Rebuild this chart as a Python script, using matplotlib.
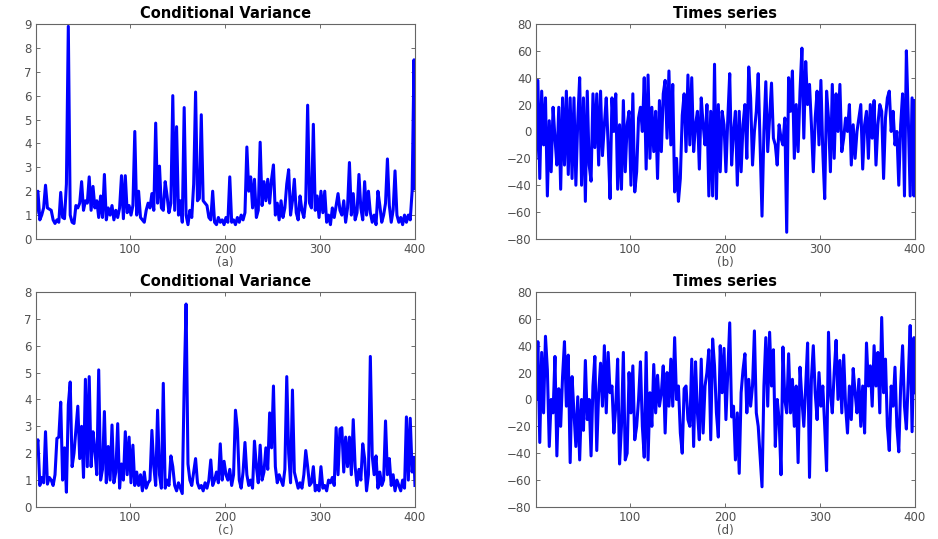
import numpy as np
import matplotlib
matplotlib.use('Agg')
import matplotlib.pyplot as plt


# sample index: every second point, plus the last one
t = np.r_[np.arange(1, 400, 2), 400]

var_a = [1.1, 2.0, 0.8, 1.0, 1.3, 2.25, 1.3, 1.25, 1.2, 0.8,
         0.65, 0.8, 0.7, 1.95, 0.9, 0.85, 2.3, 8.9, 1.0, 0.7,
         0.65, 1.4, 1.3, 1.5, 2.4, 1.2, 1.6, 1.5, 2.6, 1.2,
         2.2, 1.3, 1.6, 0.9, 1.8, 0.9, 2.7, 0.8, 1.3, 1.0,
         1.4, 0.8, 1.2, 0.9, 1.3, 2.65, 0.85, 2.65, 1.1, 1.4,
         1.0, 1.4, 4.5, 1.0, 2.0, 0.9, 0.8, 0.7, 1.2, 1.5,
         1.3, 1.9, 1.2, 4.85, 1.5, 3.05, 1.3, 1.2, 2.4, 1.8,
         1.1, 1.5, 6.0, 1.2, 4.7, 1.0, 1.6, 0.7, 5.5, 1.0,
         0.6, 1.2, 0.9, 2.3, 6.15, 1.6, 1.7, 5.2, 1.6, 1.5,
         1.4, 0.9, 0.8, 2.0, 0.7, 0.6, 0.9, 0.7, 0.8, 0.6,
         0.9, 0.7, 2.6, 0.7, 0.8, 0.6, 0.9, 0.7, 1.0, 0.8,
         1.1, 3.85, 2.0, 2.6, 1.3, 2.5, 0.9, 1.2, 4.05, 1.4,
         2.4, 1.6, 2.5, 1.5, 2.5, 3.1, 1.0, 1.5, 0.8, 1.6,
         0.9, 1.3, 2.3, 2.9, 1.0, 1.6, 2.5, 1.1, 0.8, 1.8,
         1.2, 0.9, 1.6, 5.6, 1.5, 1.3, 4.8, 1.2, 1.8, 0.9,
         2.0, 1.1, 2.0, 0.7, 1.0, 0.6, 1.3, 0.9, 1.4, 1.9,
         1.2, 1.0, 1.6, 0.7, 1.3, 3.2, 1.0, 1.9, 0.8, 1.1,
         2.7, 1.3, 0.8, 2.4, 1.0, 2.0, 1.1, 0.7, 1.0, 0.6,
         2.0, 1.4, 0.7, 1.0, 1.5, 3.35, 1.4, 0.7, 1.2, 2.85,
         1.0, 0.7, 0.9, 0.6, 1.0, 0.7, 1.0, 0.8, 2.0, 7.5,
         2.1]

series_b = [-20, 38, -35, 30, -10, 25, -48, 8, -30, 18,
            -5, -25, 18, -43, 25, -25, 30, -32, 25, -35,
            25, -40, 8, 40, -40, 25, -52, 30, -25, -37,
            28, -12, 28, -25, 30, -18, 5, 25, -10, -50,
            25, 0, 28, -43, 5, -43, 23, -30, 5, 15,
            -40, 28, -45, -30, 10, 18, 0, 40, -28, 42,
            -20, 18, -15, 15, -35, 23, -15, 28, 38, -5,
            45, -10, 35, -45, -20, -52, -35, 12, 28, -15,
            42, -10, 40, -15, 5, 15, -28, 25, 5, -10,
            20, -48, 15, -48, 50, -50, 20, -30, 15, 5,
            -30, 10, 43, -25, 0, 15, -40, 15, -30, 5,
            20, -20, 48, 25, -25, 0, 15, 43, -10, -63,
            0, 37, -15, 10, 36, -5, -10, -25, 5, -5,
            -10, 10, -75, 40, 15, 45, -20, 20, -15, 30,
            62, -5, 52, 20, 35, 5, -30, 10, 30, -10,
            38, -15, -50, 30, 10, -30, 35, -20, 28, 0,
            35, -15, -5, 10, 0, 20, -25, 5, -20, 0,
            10, 20, -28, 5, 15, -20, 20, -5, 23, -25,
            5, 20, 15, -35, 10, 25, 30, 0, 15, -10,
            0, -40, 5, 28, -48, 60, 10, -48, 25, -48,
            23]

var_c = [2.05, 2.5, 0.8, 1.1, 0.9, 2.8, 0.85, 1.1, 1.0, 0.8,
         1.2, 2.55, 2.6, 3.9, 1.0, 2.2, 0.55, 3.8, 4.65, 1.5,
         2.0, 2.9, 3.75, 1.8, 3.0, 1.1, 4.75, 1.5, 4.85, 1.5,
         2.8, 2.1, 1.2, 5.1, 1.0, 1.4, 3.55, 0.9, 2.25, 1.0,
         3.05, 0.9, 1.3, 3.1, 0.7, 1.6, 1.0, 2.8, 1.2, 2.6,
         0.9, 2.3, 0.8, 1.3, 0.8, 1.2, 0.6, 1.3, 0.7, 0.9,
         1.0, 2.85, 1.5, 0.8, 3.6, 1.2, 0.7, 4.6, 0.7, 1.0,
         0.8, 1.9, 1.5, 0.8, 0.6, 0.9, 0.7, 0.5, 4.5, 7.55,
         1.6, 1.0, 0.8, 1.3, 1.8, 0.9, 0.7, 0.8, 0.6, 0.9,
         0.7, 1.0, 1.75, 0.8, 1.0, 1.3, 0.9, 2.35, 1.0, 1.7,
         1.2, 1.0, 1.4, 0.8, 1.2, 3.6, 2.9, 1.0, 0.7, 1.3,
         2.4, 1.2, 0.8, 1.0, 0.7, 2.45, 1.5, 0.9, 2.3, 1.0,
         1.3, 2.2, 1.4, 3.5, 2.2, 4.5, 1.5, 0.9, 1.2, 1.0,
         0.8, 1.4, 4.85, 2.0, 0.9, 4.35, 1.3, 1.0, 0.7, 0.9,
         0.7, 1.2, 2.1, 1.5, 0.8, 0.9, 1.5, 0.6, 0.8, 0.6,
         1.5, 0.7, 0.8, 0.6, 1.0, 0.9, 1.1, 0.8, 2.95, 1.2,
         2.9, 2.95, 1.3, 2.6, 1.5, 2.6, 1.2, 3.25, 1.5, 0.8,
         1.4, 1.0, 2.35, 1.8, 0.6, 1.2, 5.6, 1.9, 1.2, 1.9,
         0.7, 1.3, 0.8, 1.0, 3.2, 1.2, 1.8, 0.8, 1.2, 0.6,
         1.0, 0.8, 0.6, 1.0, 0.7, 3.35, 1.0, 3.3, 1.3, 1.85,
         0.8]

series_d = [0, 43, -32, 35, -10, 47, 22, -35, 0, -10,
            32, -42, 8, -20, 17, 43, -5, 33, -47, 17,
            -10, -35, 2, -45, 0, -23, 29, -15, 0, -42,
            10, 32, -38, 5, 27, -5, 40, -10, 35, 5,
            10, -25, -5, 30, -48, -20, 35, -45, -40, 20,
            -10, 25, -30, -20, 0, 28, -20, -43, 35, -45,
            5, -20, 26, -10, 18, -5, 5, 25, -25, 20,
            -5, 30, -5, 46, 0, 10, -25, -40, 8, 10,
            -15, -20, 30, -35, 28, -10, -30, 30, -25, 10,
            20, 37, -30, 45, 25, -10, -28, 40, 5, 38,
            -15, 20, 57, -13, -5, -45, -10, -55, 5, 22,
            34, -10, 15, -5, 10, 51, -10, -20, -43, -65,
            10, 46, -5, 50, 10, 37, -35, 0, -15, -56,
            39, 0, -10, 34, -10, 15, -20, 10, -47, 24,
            0, -20, 10, 42, -58, 15, 40, 5, -15, 20,
            -5, 10, -20, -53, 50, 5, -10, 20, 44, 0,
            29, -10, 33, -5, -25, 10, -15, 23, 5, -10,
            15, -20, 10, -25, 42, 10, 25, -5, 40, 10,
            35, -10, 61, 5, 30, -20, -38, 10, -5, 24,
            -20, -39, 10, 40, -5, -22, 15, 55, -24, 46,
            5]

titles = ['Conditional Variance', 'Times series', 'Conditional Variance', 'Times series']
labels = ['(a)', '(b)', '(c)', '(d)']

plt.rcParams['font.family'] = 'DejaVu Sans'

fig = plt.figure(figsize=(9.38, 5.39), dpi=100)

left_x = [0.0384, 0.5714]
bottom_y = [0.5566, 0.0594]
w = 0.404
h = 0.399

panels = [(var_a, 0, 0, (0, 9), np.arange(0, 10, 1)),
          (series_b, 1, 0, (-80, 80), np.arange(-80, 81, 20)),
          (var_c, 0, 1, (0, 8), np.arange(0, 9, 1)),
          (series_d, 1, 1, (-80, 80), np.arange(-80, 81, 20))]

grey = '#555555'

for k, (vals, col, row, ylim, yticks) in enumerate(panels):
    ax = fig.add_axes([left_x[col], bottom_y[row], w, h])
    ax.plot(t, vals, color='#0000ff', lw=2.2)
    ax.set_xlim(1, 400)
    ax.set_ylim(*ylim)
    ax.set_xticks([100, 200, 300, 400])
    ax.set_yticks(yticks)
    ax.tick_params(direction='in', length=3, width=0.6, top=True, right=True,
                   labelsize=8.5, colors=grey, labelcolor='#505050', pad=3)
    for s in ax.spines.values():
        s.set_color('#666666')
        s.set_linewidth(0.8)
    ax.set_title(titles[k], fontsize=10.5, fontweight='bold', pad=4)
    ax.set_xlabel(labels[k], fontsize=8.5, color='#505050', labelpad=0)

plt.savefig('out.png', dpi=100)
